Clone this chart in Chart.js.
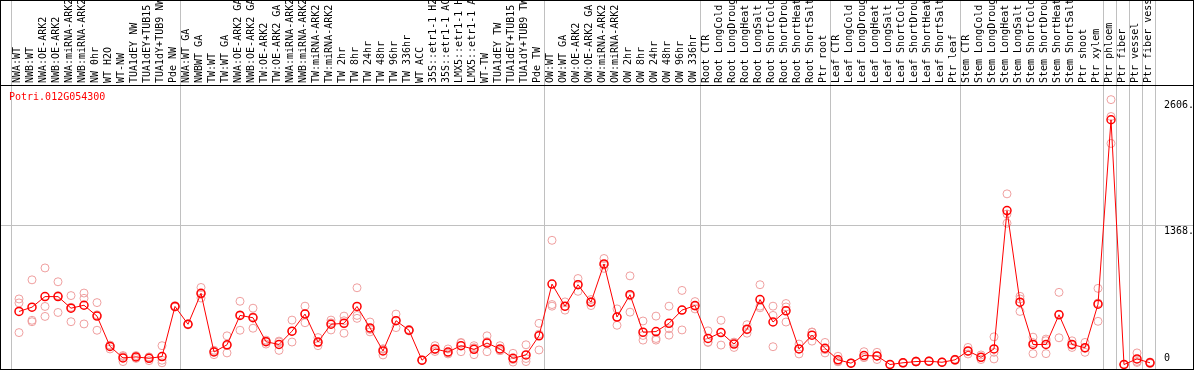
<!DOCTYPE html>
<html>
<head>
<meta charset="utf-8">
<script src="https://cdn.jsdelivr.net/npm/chart.js@4.4.0/dist/chart.umd.min.js"></script>
<style>
  html, body { margin: 0; padding: 0; background: #fff; }
  canvas { display: block; }
</style>
</head>
<body>
<canvas id="chart" width="1194" height="370"></canvas>
<script>
const GENE_ID = 'Potri.012G054300';

const SAMPLES = [
    'NWA:WT', 'NWB:WT', 'NWA:OE-ARK2', 'NWB:OE-ARK2', 'NWA:miRNA-ARK2', 'NWB:miRNA-ARK2',
    'NW 0hr', 'WT H2O', 'WT-NW', 'TUA1dEY NW', 'TUA1dEY+TUB15 NW', 'TUA1dY+TUB9 NW', 'Pde NW',
    'NWA:WT GA', 'NWBWT GA', 'TW:WT', 'TW:WT GA', 'NWA:OE-ARK2 GA', 'NWB:OE-ARK2 GA',
    'TW:OE-ARK2', 'TW:OE-ARK2 GA', 'NWA:miRNA-ARK2', 'NWB:miRNA-ARK2', 'TW:miRNA-ARK2',
    'TW:miRNA-ARK2', 'TW 2hr', 'TW 8hr', 'TW 24hr', 'TW 48hr', 'TW 96hr', 'TW 336hr',
    'WT ACC', '35S::etr1-1 H2O', '35S::etr1-1 ACC', 'LMX5::etr1-1 H2O', 'LMX5::etr1-1 ACC',
    'WT-TW', 'TUA1dEY TW', 'TUA1dEY+TUB15 TW', 'TUA1dY+TUB9 TW', 'Pde TW',
    'OW:WT', 'OW:WT GA', 'OW:OE-ARK2', 'OW:OE-ARK2 GA', 'OW:miRNA-ARK2', 'OW:miRNA-ARK2',
    'OW 2hr', 'OW 8hr', 'OW 24hr', 'OW 48hr', 'OW 96hr', 'OW 336hr',
    'Root CTR', 'Root LongCold', 'Root LongDrought', 'Root LongHeat', 'Root LongSalt',
    'Root ShortCold', 'Root ShortDrought', 'Root ShortHeat', 'Root ShortSalt', 'Ptr root',
    'Leaf CTR', 'Leaf LongCold', 'Leaf LongDrought', 'Leaf LongHeat', 'Leaf LongSalt',
    'Leaf ShortCold', 'Leaf ShortDrought', 'Leaf ShortHeat', 'Leaf ShortSalt', 'Ptr leaf',
    'Stem CTR', 'Stem LongCold', 'Stem LongDrought', 'Stem LongHeat', 'Stem LongSalt',
    'Stem ShortCold', 'Stem ShortDrought', 'Stem ShortHeat', 'Stem ShortSalt', 'Ptr shoot', 'Ptr xylem',
    'Ptr phloem', 'Ptr fiber', 'Ptr vessel', 'Ptr fiber vessel'
];

// mean expression per sample
const MEANS = [
    522, 564, 668, 668, 554, 583, 476, 178, 65, 75, 61, 78, 571,
    396, 700, 123, 194, 483, 460, 224, 197, 328, 496, 221, 396, 405, 571, 360, 133, 431, 337,
    42, 153, 123, 185, 149, 211, 153, 61, 94, 282,
    791, 574, 785, 613, 989, 467, 687, 318, 324, 405, 535, 580,
    256, 314, 201, 347, 639, 418, 528, 153, 289, 159,
    46, 13, 88, 84, 0, 17, 29, 32, 22, 46,
    133, 71, 153, 1514, 613, 197, 197, 489, 197, 165, 593,
    2408, 0, 55, 17
];

// individual replicates
const REP_A = [
    645, 833, 950, 814, 678, 703, 609, 190, 88, 88, 75, 185, 580,
    400, 758, 97, 282, 622, 554, 201, 230, 437, 574, 265, 437, 476, 755, 418, 94, 496, 345,
    40, 185, 153, 217, 185, 282, 185, 110, 194, 405,
    1222, 616, 846, 639, 1043, 547, 872, 428, 476, 574, 729, 619,
    331, 435, 168, 392, 785, 574, 600, 201, 317, 217,
    81, 10, 126, 120, 0, 12, 25, 28, 20, 40,
    168, 94, 272, 1679, 671, 269, 250, 710, 233, 217, 749,
    2606, 0, 114, 10
];
const REP_B = [
    606, 435, 571, 512, 563, 651, 489, 153, 29, 60, 70, 42, 565,
    390, 654, 130, 114, 337, 357, 240, 139, 221, 411, 185, 340, 308, 483, 321, 150, 363, 330,
    45, 146, 104, 126, 97, 126, 136, 49, 29, 143,
    590, 535, 720, 580, 946, 386, 515, 240, 240, 289, 340, 547,
    217, 191, 220, 308, 574, 483, 418, 104, 230, 114,
    30, 15, 70, 49, 0, 20, 35, 36, 25, 52,
    104, 49, 55, 1481, 522, 107, 107, 263, 168, 120, 425,
    2175, 0, 20, 25
];
const REP_C = [
    314, 421, 473, 678, 421, 399, 337, 190, 78, 78, 38, 17, 570,
    398, 690, 140, 186, 490, 470, 230, 222, 326, 500, 213, 410, 430, 454, 345, 155, 433, 337,
    40, 128, 112, 212, 165, 225, 138, 24, 59, 298,
    574, 570, 789, 620, 978, 468, 675, 286, 256, 352, 536, 574,
    220, 316, 215, 341, 558, 175, 566, 154, 320, 146,
    27, 14, 68, 83, 0, 18, 27, 32, 22, 46,
    128, 70, 120, 1390, 645, 215, 234, 494, 190, 158, 605,
    2440, 0, 30, 17
];

// first sample index of each tissue/experiment block (last entry = end)
const GROUP_STARTS = [0, 13, 41, 53, 63, 73, 84, 85, 86, 87, 88];

const Y_MAX = 2750;
const Y_TICKS = [0, 1368, 2606];
const Y_TICK_LABELS = ['0', '1368.', '2606.'];

const FONT = '"DejaVu Sans Mono", monospace';
const RED = '#ff0000';
const PINK = '#f0a0a0';
const GRAY = '#c0c0c0';

const toPoints = (arr) => arr.map((v, i) => ({ x: i, y: v }));

const panelPlugin = {
    id: 'panel',
    beforeDraw(chart) {
        const { ctx, width, height } = chart;
        ctx.save();
        ctx.fillStyle = '#fff';
        ctx.fillRect(0, 0, width, height);
        ctx.restore();
    },
    beforeDatasetsDraw(chart) {
        const { ctx, width, height } = chart;
        const x = chart.scales.x;
        const y = chart.scales.y;
        const step = x.getPixelForValue(1) - x.getPixelForValue(0);
        ctx.save();
        ctx.fillStyle = GRAY;
        GROUP_STARTS.forEach(i => {
            const px = Math.round(x.getPixelForValue(i) - step / 2);
            ctx.fillRect(px, 0, 1, height);
        });
        const gy = Math.round(y.getPixelForValue(Y_TICKS[1]));
        ctx.fillRect(0, gy, width, 1);
        ctx.restore();
    },
    afterDraw(chart) {
        const { ctx, width, height, chartArea } = chart;
        const y = chart.scales.y;
        ctx.save();
        ctx.fillStyle = '#000';
        ctx.fillRect(0, 0, width, 1);
        ctx.fillRect(0, chartArea.top, width, 1);
        ctx.fillRect(0, height - 1, width, 1);
        ctx.fillRect(0, 0, 1, height);
        ctx.fillRect(width - 1, 0, 1, height);

        ctx.font = '10px ' + FONT;
        ctx.textAlign = 'left';
        Y_TICKS.forEach((v, i) => {
            const py = y.getPixelForValue(v);
            if (v === 0) {
                ctx.textBaseline = 'alphabetic';
                ctx.fillText(Y_TICK_LABELS[i], 1164, py - 3.5);
            } else {
                ctx.textBaseline = 'top';
                ctx.fillText(Y_TICK_LABELS[i], 1164, py + 0.5);
            }
        });

        ctx.fillStyle = RED;
        ctx.textBaseline = 'alphabetic';
        ctx.fillText(GENE_ID, 9, 100);
        ctx.restore();
    }
};

new Chart(document.getElementById('chart'), {
    type: 'line',
    data: {
        labels: SAMPLES,
        datasets: [
            {
                label: 'mean',
                data: toPoints(MEANS),
                xAxisID: 'xd',
                borderColor: RED,
                borderWidth: 1,
                pointRadius: 4,
                pointBorderWidth: 1.5,
                pointBorderColor: RED,
                pointBackgroundColor: 'rgba(0,0,0,0)',
                tension: 0,
                clip: false,
                order: 0
            },
            ...[REP_A, REP_B, REP_C].map((rep, k) => ({
                label: 'rep ' + (k + 1),
                data: toPoints(rep),
                xAxisID: 'xd',
                showLine: false,
                pointRadius: 4,
                pointBorderWidth: 1,
                pointBorderColor: PINK,
                pointBackgroundColor: 'rgba(0,0,0,0)',
                clip: false,
                order: 1
            }))
        ]
    },
    options: {
        responsive: false,
        devicePixelRatio: 1,
        animation: false,
        events: [],
        layout: { padding: { left: 11, right: 39, top: 0, bottom: 1 } },
        plugins: {
            legend: { display: false },
            tooltip: { enabled: false }
        },
        scales: {
            x: {
                type: 'category',
                position: 'top',
                offset: true,
                grid: { display: false, drawTicks: false },
                border: { display: false },
                ticks: {
                    autoSkip: false,
                    minRotation: 90,
                    maxRotation: 90,
                    padding: 2,
                    labelOffset: 12,
                    color: '#000',
                    font: { family: FONT, size: 10 }
                },
                afterFit(scale) { scale.height = 85; }
            },
            xd: {
                type: 'linear',
                display: false,
                min: -8 / 13,
                max: 88 - 8 / 13
            },
            y: {
                type: 'linear',
                display: false,
                min: 0,
                max: Y_MAX
            }
        }
    },
    plugins: [panelPlugin]
});
</script>
</body>
</html>
